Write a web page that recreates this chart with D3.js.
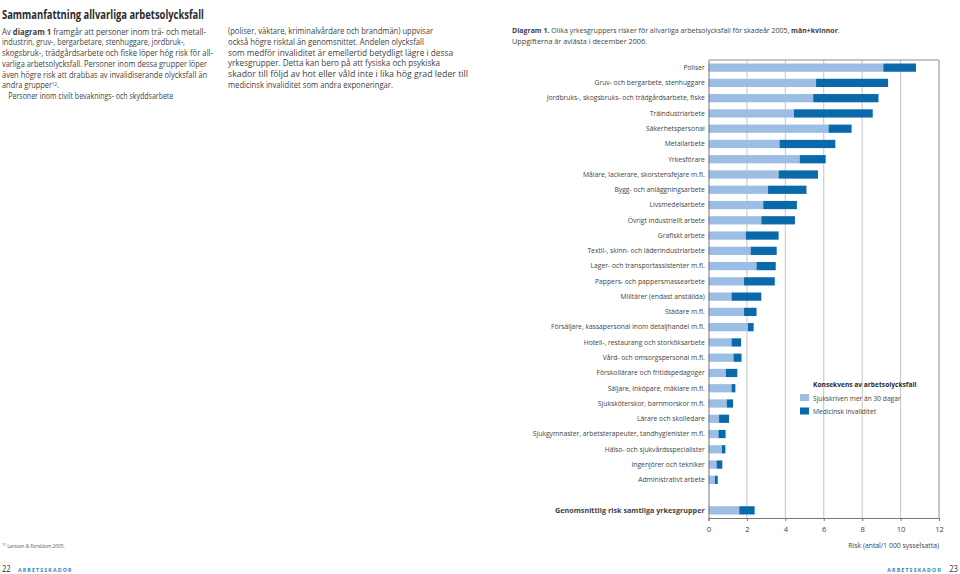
<!DOCTYPE html>
<html><head><meta charset="utf-8">
<script src="https://cdn.jsdelivr.net/npm/d3@7"></script>
<style>body{margin:0;background:#fff}svg{display:block}text{font-family:"Open Sans",sans-serif}</style>
</head><body><svg id="c" width="960" height="574"></svg>
<script>
const categories = [
  "Poliser",
  "Gruv- och bergarbete, stenhuggare",
  "Jordbruks-, skogsbruks- och trädgårdsarbete, fiske",
  "Träindustriarbete",
  "Säkerhetspersonal",
  "Metallarbete",
  "Yrkesförare",
  "Målare, lackerare, skorstensfejare m.fl.",
  "Bygg- och anläggningsarbete",
  "Livsmedelsarbete",
  "Övrigt industriellt arbete",
  "Grafiskt arbete",
  "Textil-, skinn- och läderindustriarbete",
  "Lager- och transportassistenter m.fl.",
  "Pappers- och pappersmassearbete",
  "Militärer (endast anställda)",
  "Städare m.fl.",
  "Försäljare, kassapersonal inom detaljhandel m.fl.",
  "Hotell-, restaurang och storköksarbete",
  "Vård- och omsorgspersonal m.fl.",
  "Förskollärare och fritidspedagoger",
  "Säljare, inköpare, mäklare m.fl.",
  "Sjuksköterskor, barnmorskor m.fl.",
  "Lärare och skolledare",
  "Sjukgymnaster, arbetsterapeuter, tandhygienister m.fl.",
  "Hälso- och sjukvårdsspecialister",
  "Ingenjörer och tekniker",
  "Administrativt arbete"
];
const averageLabel = "Genomsnittlig risk samtliga yrkesgrupper";
// Sjukskriven mer än 30 dagar
const sickLeave = [9.1,5.6,5.45,4.45,6.25,3.7,4.75,3.65,3.1,2.85,2.75,1.95,2.2,2.5,1.85,1.2,1.85,2.05,1.2,1.3,0.9,1.2,0.95,0.55,0.52,0.7,0.42,0.33];
// Medicinsk invaliditet
const invalidity = [1.7,3.75,3.4,4.1,1.2,2.9,1.35,2.05,2.0,1.75,1.75,1.7,1.35,1.0,1.6,1.55,0.65,0.3,0.5,0.42,0.6,0.2,0.33,0.52,0.37,0.18,0.3,0.15];
const averageSick = 1.6;
const averageInvalid = 0.8;
const seriesNames = ["Sjukskriven mer än 30 dagar","Medicinsk invaliditet"];
const xTicks = [0,2,4,6,8,10,12];

const colors = ["#9dbee4","#0a69ab"];
const svg = d3.select("#c");
const textCol = "#3f3f3f";

function sText(x, y, k, size, anchor, weight, fill){
  return svg.append("g").attr("transform",`translate(${x},${y}) scale(${k},1)`)
    .append("text").attr("text-anchor",anchor||"start")
    .attr("font-size",size).attr("font-weight",weight||"normal").attr("fill",fill||textCol);
}
function fitText(x, y, w, size, weight, fill){
  return svg.append("text").attr("x",x).attr("y",y)
    .attr("font-size",size).attr("font-weight",weight||"normal").attr("fill",fill||textCol)
    .attr("textLength",w).attr("lengthAdjust","spacingAndGlyphs");
}

// Page title
fitText(2,19,202,11.6,"bold","#2b2b2b").text("Sammanfattning allvarliga arbetsolycksfall");

// Left column
const lh = 10.75, y0 = 34.6;
const l1 = sText(2, y0, 0.9, 8.6);
l1.append("tspan").text("Av ");
l1.append("tspan").attr("font-weight","bold").text("diagram 1");
l1.append("tspan").text(" framgår att personer inom trä- och metall-");
const leftPlain = [
  ["industrin, gruv-, bergarbetare, stenhuggare, jordbruk-,",183],
  ["skogsbruk-, trädgårdsarbete och fiske löper hög risk för all-",211],
  ["varliga arbetsolycksfall. Personer inom dessa grupper löper",205],
  ["även högre risk att drabbas av invalidiserande olycksfall än",205]
];
leftPlain.forEach(([s,w],i)=>{ fitText(2, y0+(i+1)*lh, w, 8.6).text(s); });
const l6 = sText(2, y0+5*lh, 0.86, 8.6);
l6.append("tspan").text("andra grupper");
l6.append("tspan").attr("font-size",5).attr("dy",-2.8).text("12");
l6.append("tspan").attr("dy",2.8).text(".");
fitText(8.3, y0+6*lh, 165, 8.6).text("Personer inom civilt bevaknings- och skyddsarbete");

const midLines = [
  ["(poliser, väktare, kriminalvårdare och brandmän) uppvisar",205],
  ["också högre risktal än genomsnittet. Andelen olycksfall",196],
  ["som medför invaliditet är emellertid betydligt lägre i dessa",225],
  ["yrkesgrupper. Detta kan bero på att fysiska och psykiska",212],
  ["skador till följd av hot eller våld inte i lika hög grad leder till",240],
  ["medicinsk invaliditet som andra exponeringar.",165]
];
midLines.forEach(([s,w],i)=>{ fitText(228, 34.2+i*lh, w, 8.6).text(s); });

// Diagram caption
const cap = sText(512, 33, 0.92, 7.6);
cap.append("tspan").attr("font-weight","bold").text("Diagram 1.");
cap.append("tspan").text(" Olika yrkesgruppers risker för allvarliga arbetsolycksfall för skadeår 2005, ");
cap.append("tspan").attr("font-weight","bold").text("män+kvinnor");
cap.append("tspan").text(".");
fitText(512, 43.5, 135, 7.6).text("Uppgifterna är avlästa i december 2006.");

// Chart
const pLeft = 708.5, pRight = 939, pTop = 60, pBottom = 518;
const gapKey = "__gap__";
const domain = [...categories, gapKey, averageLabel];
const y = d3.scaleBand().domain(domain).range([pTop,pBottom]).paddingInner(0.46).paddingOuter(0.23);
const x = d3.scaleLinear().domain([0,12]).range([pLeft,pRight]);

// gridlines
svg.append("g").selectAll("line").data(xTicks.filter(d=>d>0&&d<12)).join("line")
  .attr("x1",d=>x(d)).attr("x2",d=>x(d)).attr("y1",pTop).attr("y2",pBottom)
  .attr("stroke","#c4c4c4").attr("stroke-width",1);
// frame top & right
svg.append("path").attr("d",`M${x(0)},${pTop}H${x(12)}V${pBottom}`).attr("fill","none").attr("stroke","#8c8c8c").attr("stroke-width",1);

const rows = categories.map((c,i)=>({c, a:sickLeave[i], b:invalidity[i]}));
rows.push({c:averageLabel, a:averageSick, b:averageInvalid});

const bars = svg.append("g");
bars.selectAll("rect.a").data(rows).join("rect").attr("class","a")
  .attr("x",x(0)).attr("y",d=>y(d.c)).attr("height",y.bandwidth())
  .attr("width",d=>x(d.a)-x(0)).attr("fill",colors[0]);
bars.selectAll("rect.b").data(rows).join("rect").attr("class","b")
  .attr("x",d=>x(d.a)).attr("y",d=>y(d.c)).attr("height",y.bandwidth())
  .attr("width",d=>x(d.a+d.b)-x(d.a)).attr("fill",colors[1]);

// x axis
const xa = svg.append("g").attr("transform",`translate(0,${pBottom})`)
  .call(d3.axisBottom(x).tickValues(xTicks).tickSize(3).tickPadding(6).tickFormat(d3.format("d")));
xa.select(".domain").attr("stroke","#777");
xa.selectAll(".tick line").attr("stroke","#777");
xa.selectAll("text").attr("font-size",7.6).attr("fill",textCol).attr("font-family","Open Sans");
sText(pRight, 548, 0.9, 7.6, "end").text("Risk (antal/1 000 sysselsatta)");

// y axis
const ya = svg.append("g").attr("transform",`translate(${pLeft},0)`)
  .call(d3.axisLeft(y).tickSize(0).tickPadding(4).tickFormat(d=>d===gapKey?"":d));
ya.select(".domain").attr("stroke","#777");
ya.selectAll(".tick text").attr("fill",textCol).attr("font-family","Open Sans")
  .attr("transform",d=>d===averageLabel?"scale(0.95,1)":"scale(0.94,1)")
  .attr("font-weight",d=>d===averageLabel?"bold":"normal")
  .attr("font-size",d=>d===averageLabel?7.6:7.2);

// Legend
sText(813, 387, 0.9, 7.4, "start", "bold", "#2b2b2b").text("Konsekvens av arbetsolycksfall");
seriesNames.forEach((s,i)=>{
  svg.append("rect").attr("x",800).attr("y",394+i*13.5).attr("width",9).attr("height",7).attr("fill",colors[i]);
  sText(813, 400.5+i*13.5, 0.9, 7.4).text(s);
});

// Footer
const fn = sText(2, 548, 0.85, 5.6, "start", "normal", "#555");
fn.append("tspan").attr("font-size",4).attr("dy",-2).text("12");
fn.append("tspan").attr("dy",2).text(" Larsson & Forsblom 2005.");
sText(2, 572, 0.9, 8.5, "start", "normal", "#333").text("22");
sText(18, 571.5, 0.9, 5.8, "start", "bold", "#2a86c6").attr("letter-spacing",1.3).text("ARBETSSKADOR");
sText(942, 571.5, 0.9, 5.8, "end", "bold", "#2a86c6").attr("letter-spacing",1.3).text("ARBETSSKADOR");
sText(958, 572, 0.9, 8.5, "end", "normal", "#333").text("23");
</script></body></html>
